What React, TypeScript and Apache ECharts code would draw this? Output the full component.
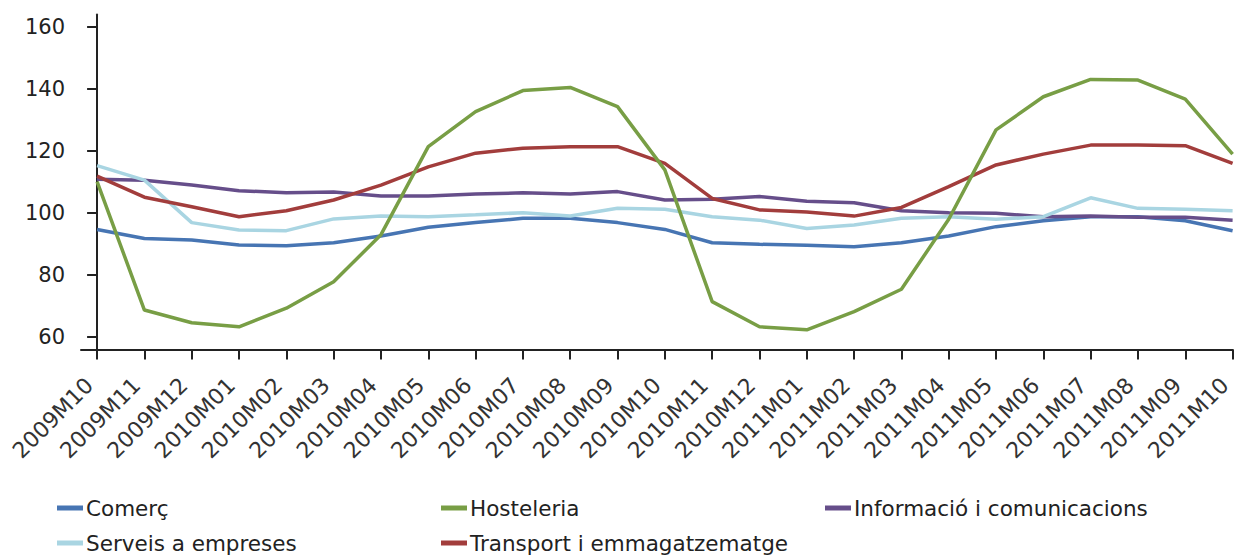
import React, { useEffect, useRef } from "react";
import * as echarts from "echarts";

const categories = [
  "2009M10", "2009M11", "2009M12", "2010M01", "2010M02", "2010M03", "2010M04",
  "2010M05", "2010M06", "2010M07", "2010M08", "2010M09", "2010M10", "2010M11",
  "2010M12", "2011M01", "2011M02", "2011M03", "2011M04", "2011M05", "2011M06",
  "2011M07", "2011M08", "2011M09", "2011M10",
];

const comerc = [94.7, 91.8, 91.3, 89.7, 89.4, 90.4, 92.6, 95.4, 96.9, 98.3, 98.3, 96.9, 94.7, 90.4, 89.9, 89.6, 89.1, 90.4, 92.6, 95.6, 97.5, 98.8, 98.8, 97.5, 94.3];
const hosteleria = [110.1, 68.7, 64.6, 63.3, 69.3, 77.8, 93.0, 121.4, 132.7, 139.5, 140.5, 134.3, 113.9, 71.4, 63.3, 62.3, 68.2, 75.4, 98.0, 126.8, 137.5, 143.1, 142.9, 136.7, 119.0];
const informacio = [110.9, 110.6, 109.0, 107.2, 106.5, 106.8, 105.5, 105.5, 106.1, 106.5, 106.1, 106.9, 104.2, 104.4, 105.3, 103.8, 103.3, 100.7, 100.1, 99.9, 98.8, 99.0, 98.6, 98.6, 97.7];
const serveis = [115.3, 110.6, 96.9, 94.5, 94.3, 98.1, 99.0, 98.8, 99.4, 100.1, 99.0, 101.5, 101.2, 98.8, 97.7, 95.0, 96.1, 98.3, 98.8, 98.0, 98.8, 104.9, 101.5, 101.2, 100.7];
const transport = [111.9, 105.1, 102.0, 98.8, 100.7, 104.2, 109.0, 114.9, 119.3, 120.9, 121.4, 121.4, 116.0, 104.7, 101.0, 100.3, 99.0, 101.8, 108.5, 115.5, 119.0, 121.9, 121.9, 121.7, 116.0];

const yTicks = [60, 80, 100, 120, 140, 160];

const seriesNames = [
  "Comerç",
  "Hosteleria",
  "Informació i comunicacions",
  "Serveis a empreses",
  "Transport i emmagatzematge",
];
const seriesData = [comerc, hosteleria, informacio, serveis, transport];
const seriesColors = ["#4775b3", "#789e45", "#664e8a", "#a9d5e2", "#a23d3c"];

const FONT = "'DejaVu Sans', sans-serif";

export default function App() {
  const ref = useRef<HTMLDivElement>(null);

  useEffect(() => {
    if (!ref.current) return;
    const chart = echarts.init(ref.current, null, { renderer: "svg" });
    const idx = categories.map((_, i) => i);

    const legendPos = [
      { left: 52, top: 492 },
      { left: 436, top: 492 },
      { left: 820, top: 492 },
      { left: 52, top: 527 },
      { left: 436, top: 527 },
    ];

    chart.setOption({
      animation: false,
      backgroundColor: "#ffffff",
      grid: { left: 81, right: 4.4, top: 14.6, bottom: 206.6, containLabel: false },
      xAxis: {
        type: "value",
        min: -0.34,
        max: 24,
        splitLine: { show: false },
        axisLine: { show: true, lineStyle: { color: "#222", width: 2 } },
        axisTick: {
          show: true,
          customValues: idx,
          length: 10,
          lineStyle: { color: "#222", width: 2 },
        },
        axisLabel: {
          customValues: idx,
          rotate: 45,
          margin: 40,
          align: "right",
          verticalAlign: "bottom",
          fontFamily: FONT,
          fontSize: 22,
          color: "#333",
          formatter: (v: number) => categories[Math.round(v)] ?? "",
        },
      },
      yAxis: {
        type: "value",
        min: 56,
        max: 164,
        splitLine: { show: false },
        axisLine: { show: true, lineStyle: { color: "#222", width: 2 } },
        axisTick: {
          show: true,
          customValues: yTicks,
          length: 10,
          lineStyle: { color: "#222", width: 2 },
        },
        axisLabel: {
          customValues: yTicks,
          margin: 16,
          fontFamily: FONT,
          fontSize: 21,
          color: "#222",
        },
      },
      legend: seriesNames.map((n, i) => ({
        data: [n],
        left: legendPos[i].left,
        top: legendPos[i].top,
        icon: "rect",
        itemWidth: 26,
        itemHeight: 5,
        itemGap: 0,
        selectedMode: false,
        textStyle: { fontFamily: FONT, fontSize: 21.5, color: "#222", padding: [0, 0, 0, -2] },
      })),
      series: seriesNames.map((n, i) => ({
        name: n,
        type: "line",
        data: seriesData[i].map((v, j) => [j, v]),
        symbol: "none",
        lineStyle: { color: seriesColors[i], width: 3.5 },
        itemStyle: { color: seriesColors[i] },
        z: i === 1 ? 3 : 2,
      })),
    });

    return () => chart.dispose();
  }, []);

  return (
    <div
      ref={ref}
      style={{ position: "fixed", left: 0, top: 0, width: 1237, height: 556 }}
    />
  );
}
